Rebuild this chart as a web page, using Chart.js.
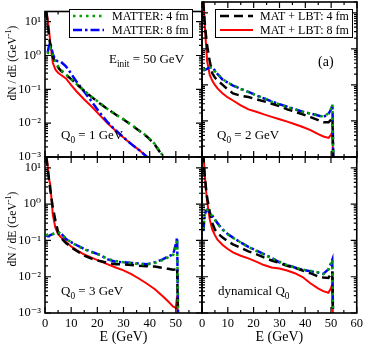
<!DOCTYPE html>
<html lang="en">
<head>
<meta charset="UTF-8">
<title>spectra</title>
<script src="https://cdn.jsdelivr.net/npm/chart.js@4.4.0/dist/chart.umd.min.js"></script>
<style>
  body { margin: 0; background: #fff; }
  .wrap { position: relative; width: 366px; height: 344px; }
  .wrap canvas { position: absolute; left: 0; top: 0; }
</style>
</head>
<body>
<div class="wrap">
  <canvas id="q1" width="366" height="344"></canvas>
  <canvas id="q2" width="366" height="344"></canvas>
  <canvas id="q3" width="366" height="344"></canvas>
  <canvas id="qd" width="366" height="344"></canvas>
</div>
<script>
// energy grid (GeV), shared by every curve; null = no point
const energy = [0.5, 1, 1.5, 2, 3, 4, 5, 6, 8, 10, 12, 15, 18, 21, 24, 27, 30, 33, 36, 39, 42, 45, 47, 49, 50, 50.5, 51];

// Q0 = 1 GeV
const q1Mat4 = [null, 1.1, 1.5, 1.7, 1.0, 0.66, 0.48, 0.38, 0.28, 0.2, 0.145, 0.092, 0.059, 0.039, 0.026, 0.018, 0.013, 0.009, 0.0061, 0.0041, 0.0024, 0.0011, 0.00052, null, null, null, null];
const q1Mat8 = [null, 1.2, 1.9, 2.4, 1.1, 0.72, 0.68, 0.66, 0.48, 0.29, 0.17, 0.085, 0.042, 0.02, 0.0105, 0.0062, 0.0038, 0.0024, 0.0016, 0.001, 0.0006, null, null, null, null, null, null];
const q1Lbt4 = [20, 9, 4, 2, 0.9, 0.6, 0.45, 0.36, 0.27, 0.2, 0.145, 0.09, 0.058, 0.038, 0.026, 0.018, 0.0129, 0.0089, 0.006, 0.004, 0.0023, 0.00105, 0.0005, null, null, null, null];
const q1Lbt8 = [25, 12, 6, 2.5, 0.6, 0.38, 0.31, 0.27, 0.21, 0.134, 0.088, 0.05, 0.03, 0.017, 0.0098, 0.006, 0.0038, 0.0024, 0.0016, 0.001, 0.00062, null, null, null, null, null, null];

// Q0 = 2 GeV
const q2Mat4 = [0.26, 0.27, 0.28, 0.29, 0.31, 0.3, 0.24, 0.2, 0.145, 0.115, 0.098, 0.077, 0.063, 0.052, 0.043, 0.034, 0.029, 0.024, 0.021, 0.018, 0.0158, 0.0145, 0.013, 0.0165, 0.022, 0.029, 0.0001];
const q2Mat8 = [0.25, 0.26, 0.27, 0.28, 0.31, 0.31, 0.25, 0.2, 0.14, 0.115, 0.096, 0.078, 0.064, 0.051, 0.042, 0.035, 0.029, 0.025, 0.021, 0.018, 0.016, 0.0142, 0.0128, 0.016, 0.021, 0.028, 0.0001];
const q2Lbt4 = [20, 6, 2.5, 1.2, 0.45, 0.21, 0.16, 0.135, 0.1, 0.075, 0.058, 0.05, 0.046, 0.04, 0.035, 0.03, 0.026, 0.021, 0.018, 0.0152, 0.0128, 0.0105, 0.0092, 0.0092, 0.011, 0.012, 0.0001];
const q2Lbt8 = [25, 6, 1.5, 0.45, 0.19, 0.13, 0.1, 0.08, 0.058, 0.045, 0.037, 0.027, 0.021, 0.018, 0.0152, 0.013, 0.0112, 0.0096, 0.0081, 0.0068, 0.0056, 0.0043, 0.0037, 0.0034, 0.0042, 0.005, 0.0001];

// Q0 = 3 GeV
const q3Mat4 = [0.15, 0.14, 0.14, 0.15, 0.15, 0.16, 0.17, 0.155, 0.115, 0.088, 0.074, 0.057, 0.047, 0.04, 0.031, 0.027, 0.025, 0.024, 0.022, 0.022, 0.024, 0.029, 0.034, 0.04, 0.075, 0.11, 0.0001];
const q3Mat8 = [0.14, 0.13, 0.13, 0.14, 0.15, 0.16, 0.17, 0.16, 0.11, 0.09, 0.075, 0.058, 0.048, 0.04, 0.03, 0.026, 0.025, 0.024, 0.023, 0.022, 0.025, 0.03, 0.036, 0.042, 0.08, 0.12, 0.0001];
const q3Lbt4 = [20, 10, 5, 2.5, 0.8, 0.35, 0.17, 0.12, 0.085, 0.065, 0.052, 0.038, 0.031, 0.027, 0.024, 0.022, 0.022, 0.021, 0.02, 0.0195, 0.019, 0.0175, 0.0165, 0.0155, 0.016, 0.018, 0.0001];
const q3Lbt8 = [25, 12, 5, 3.5, 0.5, 0.22, 0.15, 0.125, 0.092, 0.068, 0.055, 0.041, 0.033, 0.027, 0.022, 0.018, 0.015, 0.0118, 0.0088, 0.0064, 0.0045, 0.0029, 0.0021, 0.0015, 0.0014, 0.003, 0.0001];

// dynamical Q0
const qdMat4 = [0.2, 0.47, 0.66, 0.69, 0.58, 0.47, 0.37, 0.29, 0.2, 0.148, 0.118, 0.089, 0.066, 0.052, 0.041, 0.032, 0.026, 0.021, 0.018, 0.0158, 0.0145, 0.0132, 0.0118, 0.0155, 0.022, 0.03, 0.0001];
const qdMat8 = [0.18, 0.45, 0.65, 0.7, 0.6, 0.48, 0.38, 0.3, 0.2, 0.15, 0.12, 0.088, 0.067, 0.053, 0.042, 0.033, 0.025, 0.021, 0.018, 0.0155, 0.0142, 0.013, 0.012, 0.016, 0.023, 0.029, 0.0001];
const qdLbt4 = [25, 7, 3, 1.5, 0.62, 0.3, 0.2, 0.16, 0.12, 0.095, 0.078, 0.063, 0.05, 0.042, 0.034, 0.028, 0.024, 0.02, 0.0175, 0.0148, 0.0125, 0.0102, 0.0095, 0.0093, 0.012, 0.014, 0.0001];
const qdLbt8 = [30, 8, 2.6, 1.2, 0.38, 0.2, 0.14, 0.105, 0.075, 0.058, 0.047, 0.038, 0.032, 0.026, 0.021, 0.018, 0.0168, 0.0148, 0.0125, 0.0098, 0.0066, 0.0048, 0.004, 0.0036, 0.0048, 0.0062, 0.0001];

const seriesNames = ['MATTER: 4 fm', 'MATTER: 8 fm', 'MAT + LBT: 4 fm', 'MAT + LBT: 8 fm'];
const xTicks = [0, 10, 20, 30, 40, 50, 60];
const yTicks = [0.001, 0.01, 0.1, 1, 10];
const yTickText = ['10\u207B\u00B3', '10\u207B\u00B2', '10\u207B\u00B9', '10\u2070', '10\u00B9'];

const SERIF = '"Liberation Serif", "DejaVu Serif", serif';
const W = 366, H = 344;

const styles = [
  { borderColor: '#00a000', borderWidth: 2.5, borderDash: [2.5, 4], order: 1 },
  { borderColor: '#0000ff', borderWidth: 2.5, borderDash: [9, 3, 2.5, 3], order: 3 },
  { borderColor: '#000000', borderWidth: 2.5, borderDash: [9, 5], order: 2 },
  { borderColor: '#ff0000', borderWidth: 2, borderDash: [], order: 4 }
];

function pts(vals) {
  const out = [];
  vals.forEach((v, i) => { if (v !== null) out.push({ x: energy[i], y: v }); });
  return out;
}

function richFont(k, size) {
  return (k ? size * 0.72 : size) + 'px ' + SERIF;
}

function richWidth(ctx, parts, size) {
  let w = 0;
  for (const [t, k] of parts) { ctx.font = richFont(k, size); w += ctx.measureText(t).width; }
  return w;
}

// draws text with sub/superscript pieces
function rich(ctx, x, y, parts, size) {
  let cx = x;
  ctx.textAlign = 'left';
  ctx.textBaseline = 'alphabetic';
  for (const [t, k] of parts) {
    ctx.font = richFont(k, size);
    const dy = k === 'sub' ? size * 0.3 : (k === 'sup' ? -size * 0.4 : 0);
    ctx.fillText(t, cx, y + dy);
    cx += ctx.measureText(t).width;
  }
}

const yTitle = [['dN / dE (GeV'], ['-1', 'sup'], [')']];

const framePlugin = {
  id: 'frame',
  afterDatasetsDraw(chart, args, opts) {
    const { ctx, chartArea: a, scales: { x, y } } = chart;
    ctx.save();
    ctx.strokeStyle = '#000';
    ctx.lineWidth = 1.2;
    ctx.beginPath();
    for (let v = 0; v <= 60; v += 5) {
      const px = x.getPixelForValue(v);
      const len = v % 10 === 0 ? 6 : 3;
      ctx.moveTo(px, a.bottom); ctx.lineTo(px, a.bottom - len);
      ctx.moveTo(px, a.top); ctx.lineTo(px, a.top + len);
    }
    for (let d = -3; d <= 1; d++) {
      for (let m = 1; m <= 9; m++) {
        const v = m * Math.pow(10, d);
        if (v > y.max) break;
        const py = y.getPixelForValue(v);
        const len = m === 1 ? 6 : 3;
        ctx.moveTo(a.left, py); ctx.lineTo(a.left + len, py);
        ctx.moveTo(a.right, py); ctx.lineTo(a.right - len, py);
      }
    }
    ctx.stroke();
    ctx.lineWidth = 1.6;
    ctx.strokeRect(a.left, a.top, a.right - a.left, a.bottom - a.top);

    ctx.fillStyle = '#000';
    (opts.notes || []).forEach(n => rich(ctx, n.x, n.y, n.parts, n.size || 13));

    // rotated y title
    if (opts.titleY) {
      const sz = 11.5;
      const w = richWidth(ctx, yTitle, sz);
      ctx.save();
      ctx.translate(16, opts.titleY);
      ctx.rotate(-Math.PI / 2);
      rich(ctx, -w / 2, 0, yTitle, sz);
      ctx.restore();
    }

    const lg = opts.legend;
    if (lg) {
      ctx.fillStyle = '#fff';
      ctx.fillRect(lg.box[0], lg.box[1], lg.box[2] - lg.box[0], lg.box[3] - lg.box[1]);
      ctx.lineWidth = 1;
      ctx.strokeStyle = '#000';
      ctx.strokeRect(lg.box[0] + 0.5, lg.box[1] + 0.5, lg.box[2] - lg.box[0], lg.box[3] - lg.box[1]);
      lg.rows.forEach(r => {
        const ds = chart.data.datasets[r.ds];
        ctx.save();
        ctx.strokeStyle = ds.borderColor;
        ctx.lineWidth = ds.borderWidth;
        ctx.setLineDash(ds.borderDash);
        ctx.beginPath();
        ctx.moveTo(lg.sx[0], r.y); ctx.lineTo(lg.sx[1], r.y);
        ctx.stroke();
        ctx.restore();
        ctx.fillStyle = '#000';
        ctx.font = '12px ' + SERIF;
        ctx.textBaseline = 'middle';
        ctx.textAlign = 'left';
        ctx.fillText(seriesNames[r.ds], lg.tx, r.y + 0.5);
      });
    }
    ctx.restore();
  }
};

function panel(id, box, vals, o) {
  return new Chart(document.getElementById(id), {
    type: 'line',
    data: {
      datasets: vals.map((v, i) => Object.assign({
        label: seriesNames[i],
        data: pts(v),
        pointRadius: 0,
        tension: 0,
        fill: false
      }, styles[i]))
    },
    options: {
      responsive: false,
      animation: false,
      events: [],
      layout: {
        padding: {
          left: o.yLab ? 0 : box[0],
          top: box[1],
          right: W - box[2],
          bottom: o.xLab ? 0 : H - box[3]
        }
      },
      plugins: {
        legend: { display: false },
        tooltip: { enabled: false },
        frame: { notes: o.notes, legend: o.legend, titleY: o.titleY }
      },
      scales: {
        x: {
          type: 'linear', min: 0, max: 60,
          display: !!o.xLab,
          grid: { display: false, drawTicks: false },
          border: { display: false },
          afterFit: s => { if (o.xLab) s.height = H - box[3]; },
          afterBuildTicks: s => { s.ticks = xTicks.map(v => ({ value: v })); },
          ticks: {
            autoSkip: false, maxRotation: 0, padding: 3, color: '#000',
            font: { family: SERIF, size: 12.5 },
            callback: v => (v === 60 && !o.last) ? '' : String(v)
          },
          title: {
            display: true, text: 'E (GeV)', color: '#000',
            font: { family: SERIF, size: 14 }, padding: { top: 0, bottom: -2 }
          }
        },
        y: {
          type: 'logarithmic', min: 0.001, max: 20,
          display: !!o.yLab,
          grid: { display: false, drawTicks: false },
          border: { display: false },
          afterFit: s => { if (o.yLab) s.width = box[0]; },
          afterBuildTicks: s => { s.ticks = yTicks.map(v => ({ value: v })); },
          ticks: {
            autoSkip: false, padding: 4, color: '#000',
            font: { family: SERIF, size: 12.5 },
            callback: (v, i) => yTickText[i]
          }
        }
      }
    },
    plugins: [framePlugin]
  });
}

panel('q1', [45, 2, 202, 157], [q1Mat4, q1Mat8, q1Lbt4, q1Lbt8], {
  yLab: true, titleY: 63,
  legend: { box: [69, 9, 192, 37], sx: [73, 104], tx: 112, rows: [{ ds: 0, y: 16 }, { ds: 1, y: 30 }] },
  notes: [
    { x: 109, y: 63, parts: [['E'], ['init', 'sub'], [' = 50 GeV']] },
    { x: 61, y: 139, parts: [['Q'], ['0', 'sub'], [' = 1 GeV']] }
  ]
});
panel('q2', [202, 2, 357, 157], [q2Mat4, q2Mat8, q2Lbt4, q2Lbt8], {
  legend: { box: [215, 9, 352, 37], sx: [220, 253], tx: 260, rows: [{ ds: 2, y: 16 }, { ds: 3, y: 30 }] },
  notes: [
    { x: 318, y: 66, parts: [['(a)']], size: 14 },
    { x: 217, y: 139, parts: [['Q'], ['0', 'sub'], [' = 2 GeV']] }
  ]
});
panel('q3', [45, 157, 202, 313], [q3Mat4, q3Mat8, q3Lbt4, q3Lbt8], {
  yLab: true, xLab: true, titleY: 229,
  notes: [{ x: 61, y: 295, parts: [['Q'], ['0', 'sub'], [' = 3 GeV']] }]
});
panel('qd', [202, 157, 357, 313], [qdMat4, qdMat8, qdLbt4, qdLbt8], {
  xLab: true, last: true,
  notes: [{ x: 218, y: 295, parts: [['dynamical Q'], ['0', 'sub']] }]
});
</script>
</body>
</html>
